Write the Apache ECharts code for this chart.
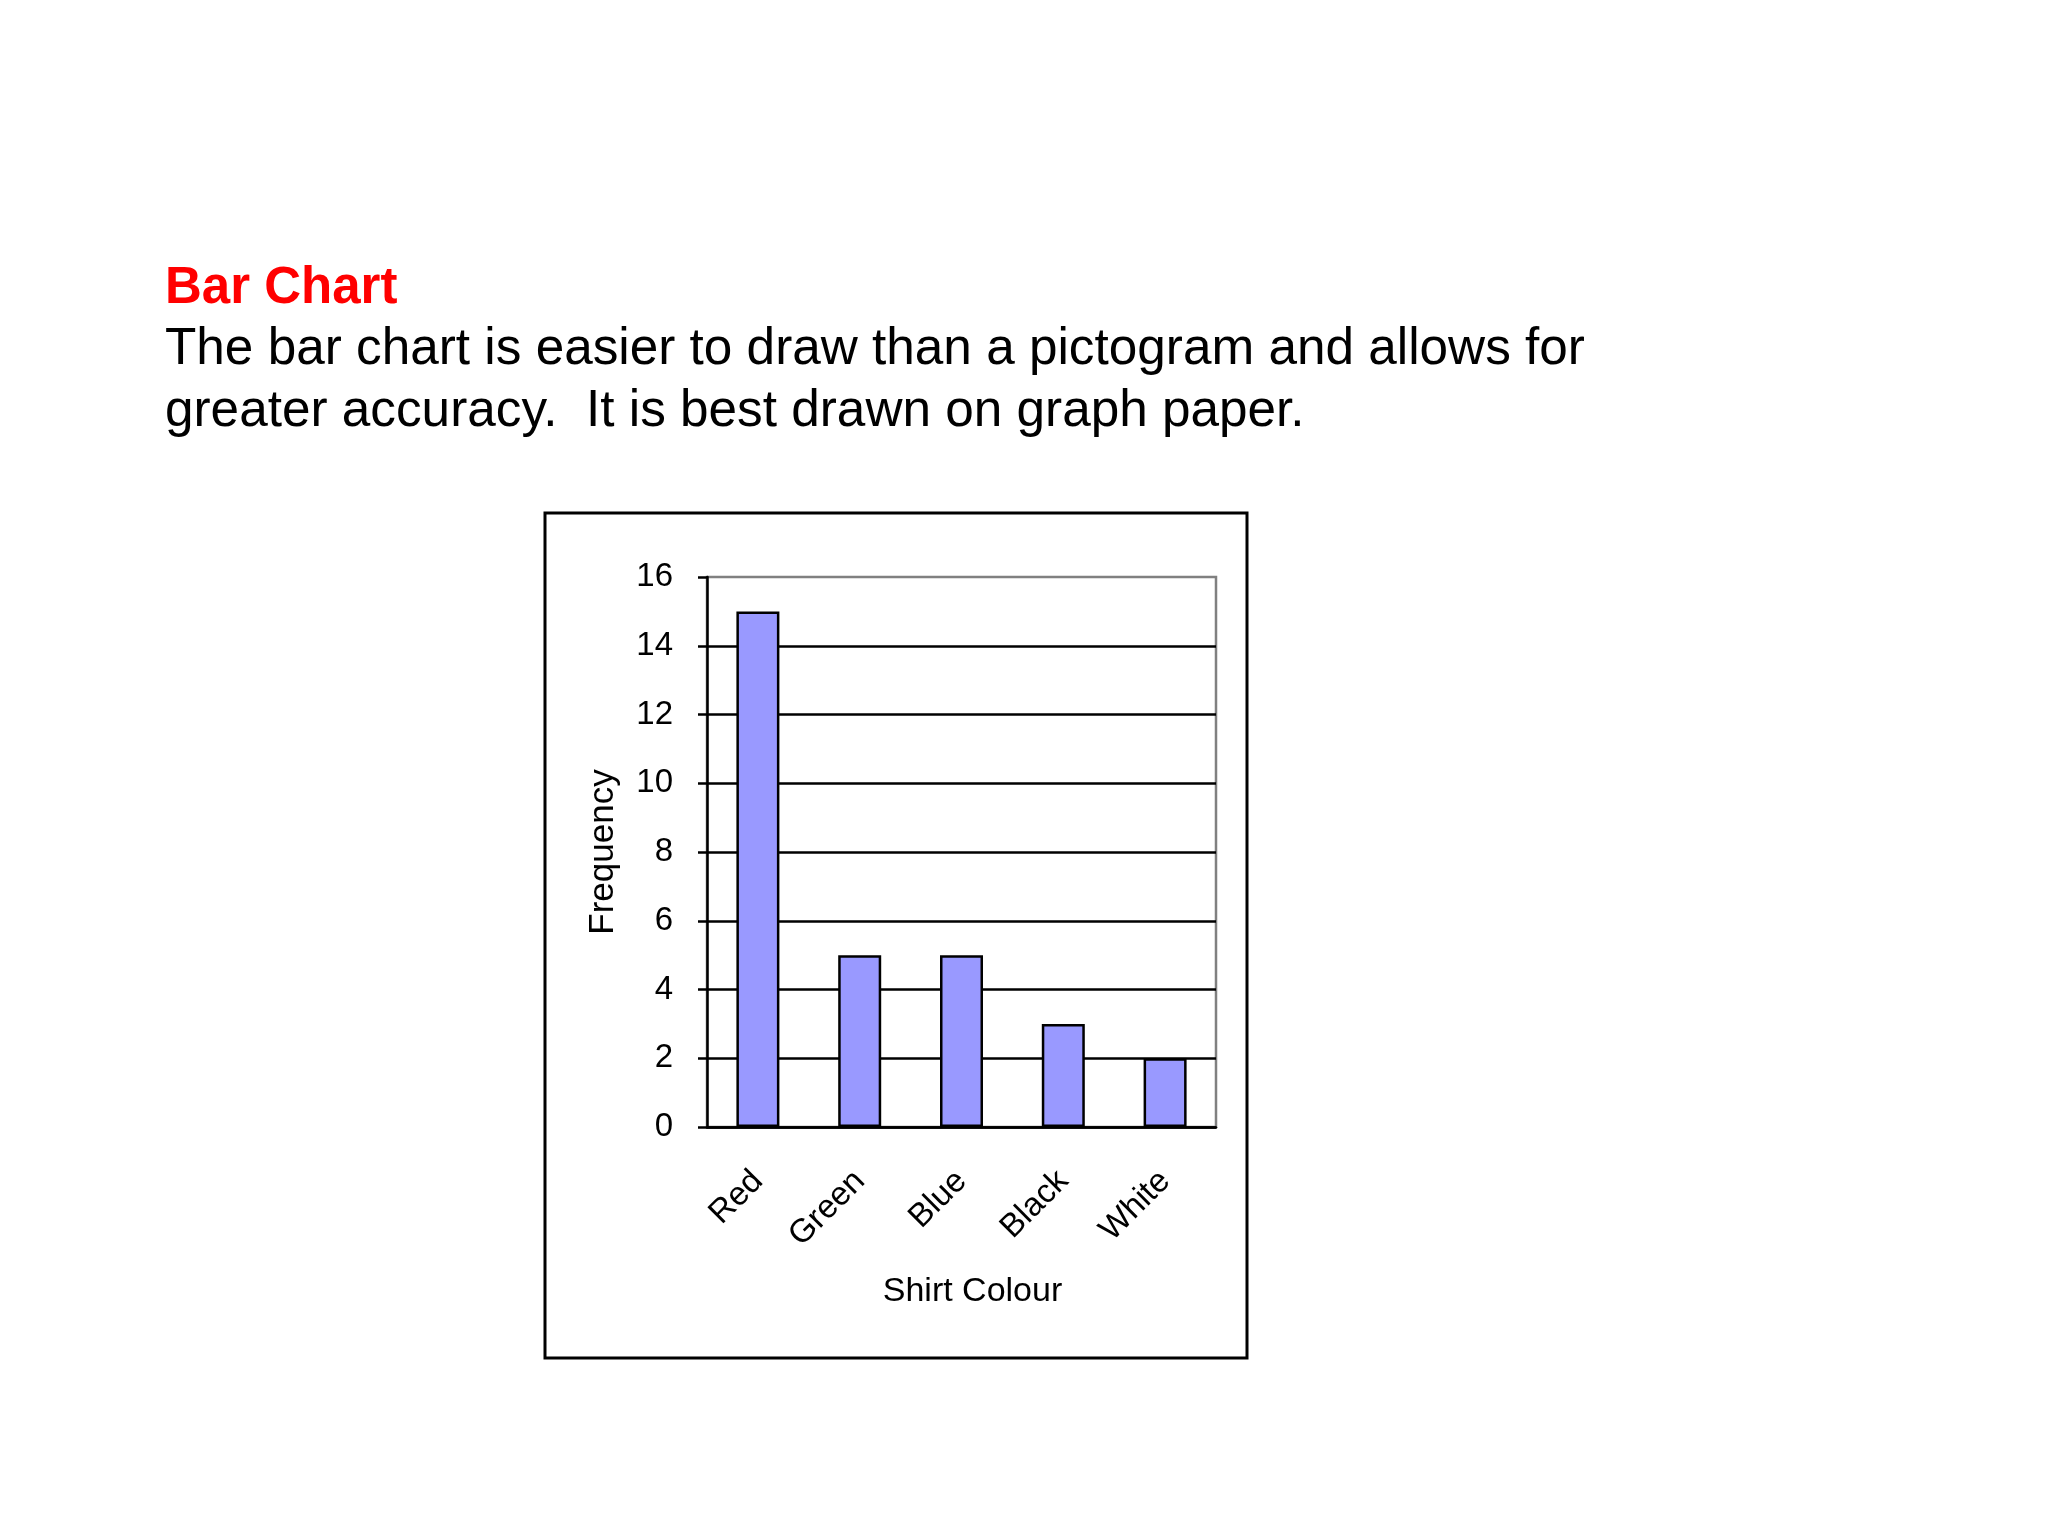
<!DOCTYPE html>
<html>
<head>
<meta charset="utf-8">
<title>Bar Chart</title>
<script src="https://cdn.jsdelivr.net/npm/echarts@6/dist/echarts.min.js"></script>
<style>
  html, body { margin: 0; padding: 0; background: #ffffff; }
  #chart { width: 2048px; height: 1536px; }
</style>
</head>
<body>
<div id="chart"></div>
<script>
var colours = ['Red', 'Green', 'Blue', 'Black', 'White'];
var frequency = [15, 5, 5, 3, 2];
var yTicks = { min: 0, max: 16, step: 2 };

var font = "'Liberation Sans', Arial, sans-serif";

var chart = echarts.init(document.getElementById('chart'));

var option = {
  backgroundColor: '#ffffff',
  animation: false,
  title: {
    left: 165,
    top: 259,
    padding: 0,
    itemGap: 0,
    text: 'Bar Chart',
    textStyle: {
      fontFamily: font,
      fontSize: 51,
      fontWeight: 'bold',
      color: '#ff0000',
      lineHeight: 60
    },
    subtext: 'The bar chart is easier to draw than a pictogram and allows for\ngreater accuracy.  It is best drawn on graph paper.',
    subtextStyle: {
      fontFamily: font,
      fontSize: 51.3,
      color: '#000000',
      lineHeight: 62
    }
  },
  graphic: [{
    type: 'rect',
    z: -1,
    shape: { x: 545, y: 513, width: 702, height: 845 },
    style: { fill: '#ffffff', stroke: '#000000', lineWidth: 3 }
  }],
  grid: {
    left: 707,
    top: 577,
    width: 509,
    height: 550,
    show: true,
    borderColor: '#808080',
    borderWidth: 2.5,
    backgroundColor: 'transparent'
  },
  xAxis: {
    type: 'category',
    data: colours,
    name: 'Shirt Colour',
    nameLocation: 'middle',
    nameGap: 148,
    nameTextStyle: {
      fontFamily: font,
      fontSize: 34,
      color: '#000000',
      verticalAlign: 'top',
      padding: [0, 0, 0, 22]
    },
    axisLine: { lineStyle: { color: '#000000', width: 2.5 } },
    axisTick: { length: 7, lineStyle: { color: '#000000', width: 2.5 } },
    axisLabel: {
      interval: 0,
      rotate: 45,
      margin: 49,
      padding: [52, 0, 0, 0],
      fontFamily: font,
      fontSize: 33,
      color: '#000000'
    }
  },
  yAxis: {
    type: 'value',
    min: yTicks.min,
    max: yTicks.max,
    interval: yTicks.step,
    name: 'Frequency',
    nameLocation: 'middle',
    nameGap: 86,
    nameTextStyle: {
      fontFamily: font,
      fontSize: 35,
      color: '#000000'
    },
    axisLine: { show: true, lineStyle: { color: '#000000', width: 2.5 } },
    axisTick: { show: true, length: 9, lineStyle: { color: '#000000', width: 2.5 } },
    axisLabel: {
      margin: 34,
      fontFamily: font,
      fontSize: 33,
      color: '#000000'
    },
    splitLine: {
      show: true,
      showMaxLine: false,
      lineStyle: { color: '#000000', width: 2.5 }
    }
  },
  series: [{
    type: 'bar',
    data: frequency,
    barWidth: 43,
    itemStyle: {
      color: '#9999ff',
      borderColor: '#000000',
      borderWidth: 2.5
    }
  }]
};

chart.setOption(option);
</script>
</body>
</html>
